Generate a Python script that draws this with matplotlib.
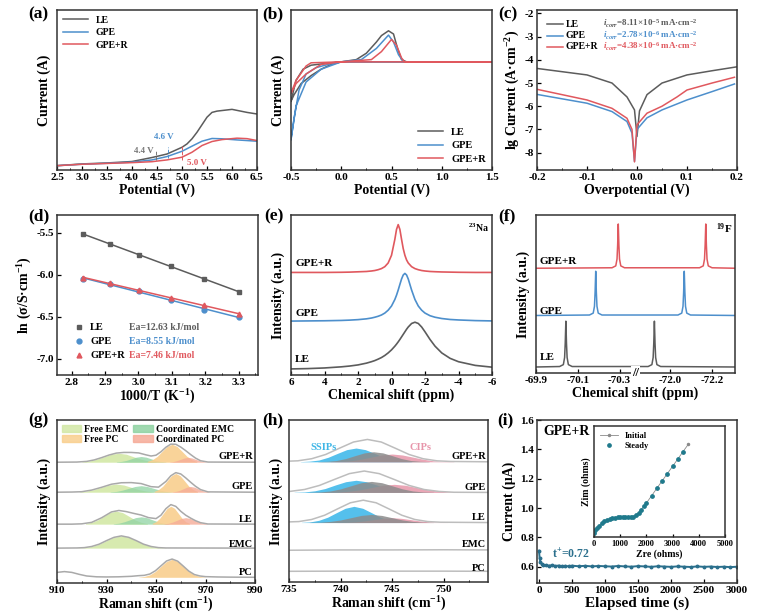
import numpy as np
import matplotlib
matplotlib.use('Agg')
import matplotlib.pyplot as plt
from matplotlib.patches import Patch
from matplotlib.ticker import AutoMinorLocator

plt.rcParams['font.family'] = ['Liberation Serif', 'DejaVu Serif']
plt.rcParams['font.weight'] = 'bold'
plt.rcParams['axes.labelweight'] = 'bold'
plt.rcParams['mathtext.fontset'] = 'custom'
plt.rcParams['mathtext.rm'] = 'Liberation Serif:bold'
plt.rcParams['mathtext.it'] = 'Liberation Serif:italic:bold'
plt.rcParams['mathtext.bf'] = 'Liberation Serif:bold'
plt.rcParams['axes.unicode_minus'] = False

C_LE = '#5c5c5c'
C_GPE = '#4d8fcc'
C_R = '#e0585e'
names = ['LE', 'GPE', 'GPE+R']
cols = [C_LE, C_GPE, C_R]

# ---------------- (a) LSV ----------------
a_x_le = [2.5, 3.0, 3.5, 4.0, 4.4, 4.7, 5.0, 5.1, 5.2, 5.3, 5.5, 5.6, 5.7, 6.0, 6.3, 6.5]
a_y_le = [0.027, 0.038, 0.044, 0.053, 0.078, 0.10, 0.142, 0.163, 0.195, 0.236, 0.33, 0.36, 0.368, 0.379, 0.36, 0.35]
a_x_gpe = [2.5, 3.0, 3.5, 4.0, 4.4, 4.7, 5.0, 5.2, 5.4, 5.6, 5.8, 6.1, 6.5]
a_y_gpe = [0.027, 0.036, 0.042, 0.049, 0.063, 0.084, 0.117, 0.149, 0.18, 0.197, 0.195, 0.188, 0.18]
a_x_r = [2.5, 3.0, 3.5, 4.0, 4.4, 4.7, 5.0, 5.2, 5.4, 5.6, 5.8, 6.1, 6.3, 6.5]
a_y_r = [0.027, 0.036, 0.041, 0.046, 0.052, 0.063, 0.08, 0.111, 0.153, 0.178, 0.19, 0.199, 0.196, 0.184]

# ---------------- (b) CV loops ----------------
b_x_le = [-0.5, -0.45, -0.38, -0.3, -0.1, 0.0, 0.15, 0.25, 0.35, 0.40, 0.47, 0.52, 0.56, 0.6, 0.65, 1.5,
          0.6, 0.0, -0.1, -0.2, -0.3, -0.4, -0.47, -0.5]
b_y_le = [0.43, 0.56, 0.63, 0.655, 0.67, 0.676, 0.69, 0.73, 0.80, 0.84, 0.87, 0.85, 0.76, 0.69, 0.676, 0.676,
          0.676, 0.676, 0.66, 0.63, 0.59, 0.54, 0.47, 0.43]
b_x_gpe = [-0.5, -0.47, -0.42, -0.35, -0.25, -0.1, 0.0, 0.2, 0.35, 0.47, 0.52, 0.57, 0.62, 1.5,
           0.62, 0.0, -0.2, -0.35, -0.45, -0.5]
b_y_gpe = [0.19, 0.32, 0.50, 0.60, 0.64, 0.665, 0.676, 0.69, 0.76, 0.843, 0.80, 0.72, 0.676, 0.676,
           0.676, 0.676, 0.63, 0.55, 0.40, 0.19]
b_x_r = [-0.5, -0.45, -0.35, -0.3, 0.0, 0.3, 0.4, 0.5, 0.55, 0.6, 0.63, 1.5,
         0.63, 0.0, -0.2, -0.35, -0.45, -0.5]
b_y_r = [0.48, 0.56, 0.65, 0.67, 0.676, 0.69, 0.74, 0.816, 0.78, 0.70, 0.676, 0.676,
         0.676, 0.676, 0.66, 0.60, 0.54, 0.48]

# ---------------- (c) Tafel ----------------
c_x_le = [-0.2, -0.1, -0.05, -0.02, -0.005, 0.0, 0.005, 0.02, 0.05, 0.1, 0.15, 0.2]
c_y_le = [-4.37, -4.65, -5.0, -5.6, -6.16, -7.3, -6.2, -5.5, -5.0, -4.65, -4.47, -4.3]
c_x_gpe = [-0.2, -0.1, -0.05, -0.02, -0.01, -0.005, 0.0, 0.02, 0.05, 0.1, 0.15, 0.195]
c_y_gpe = [-5.49, -5.87, -6.23, -6.66, -7.16, -8.38, -7.0, -6.5, -6.16, -5.73, -5.37, -5.04]
c_x_r = [-0.2, -0.1, -0.05, -0.02, -0.01, -0.005, 0.0, 0.02, 0.05, 0.08, 0.1, 0.15, 0.195]
c_y_r = [-5.27, -5.73, -6.09, -6.52, -7.0, -8.4, -6.8, -6.3, -6.0, -5.6, -5.3, -5.0, -4.75]
c_icorr = ['$i_{corr}$=8.11×10$^{-5}$ mA·cm$^{-2}$',
           '$i_{corr}$=2.78×10$^{-6}$ mA·cm$^{-2}$',
           '$i_{corr}$=4.38×10$^{-6}$ mA·cm$^{-2}$']

# ---------------- (d) Arrhenius ----------------
d_x = [2.833, 2.915, 3.003, 3.096, 3.195, 3.300]
d_le = [-5.51, -5.64, -5.77, -5.89, -6.05, -6.20]
d_gpe = [-6.05, -6.11, -6.19, -6.30, -6.42, -6.50]
d_r = [-6.04, -6.10, -6.18, -6.27, -6.36, -6.47]
d_ea = ['Ea=12.63 kJ/mol', 'Ea=8.55 kJ/mol', 'Ea=7.46 kJ/mol']

# ---------------- (e) 23Na NMR ----------------
e_x = [6, 5, 4, 3, 2.5, 2, 1.5, 1.2, 1.0, 0.8, 0.6, 0.4, 0.2, 0.0, -0.2, -0.3, -0.4, -0.5, -0.6, -0.7,
       -0.8, -0.9, -1.0, -1.2, -1.4, -1.6, -1.8, -2.0, -2.3, -2.6, -3, -3.5, -4, -5, -6]
e_r = [0.641, 0.641, 0.641, 0.642, 0.643, 0.645, 0.647, 0.650, 0.653, 0.658, 0.665, 0.677, 0.70, 0.748,
       0.848, 0.91, 0.94, 0.91, 0.848, 0.79, 0.748, 0.719, 0.70, 0.677, 0.665, 0.658, 0.653, 0.650,
       0.647, 0.6455, 0.644, 0.643, 0.642, 0.641, 0.641]
e_gpe = [0.337, 0.338, 0.339, 0.341, 0.343, 0.346, 0.351, 0.356, 0.361, 0.367, 0.375, 0.387, 0.405,
         0.431, 0.472, 0.499, 0.531, 0.566, 0.600, 0.625, 0.635, 0.625, 0.600, 0.531, 0.472, 0.431,
         0.405, 0.387, 0.3705, 0.361, 0.353, 0.347, 0.344, 0.340, 0.338]
e_le = [0.038, 0.040, 0.044, 0.051, 0.056, 0.063, 0.074, 0.083, 0.090, 0.099, 0.109, 0.122, 0.138,
        0.157, 0.18, 0.193, 0.207, 0.222, 0.238, 0.254, 0.270, 0.286, 0.300, 0.322, 0.330, 0.322,
        0.300, 0.270, 0.222, 0.180, 0.138, 0.104, 0.083, 0.060, 0.049]

# ---------------- (f) 19F NMR (broken axis) ----------------
f_x_le = [-69.90, -70.013, -70.031, -70.037, -70.040, -70.043, -70.046, -70.049, -70.055, -70.073,
          -71.894, -71.912, -71.918, -71.921, -71.924, -71.927, -71.930, -71.936, -71.954, -72.31]
f_y_le = [0.038, 0.041, 0.053, 0.098, 0.188, 0.328, 0.188, 0.098, 0.053, 0.041,
          0.041, 0.053, 0.098, 0.188, 0.328, 0.188, 0.098, 0.053, 0.041, 0.038]
f_x_gpe = [-69.90, -70.156, -70.174, -70.180, -70.183, -70.186, -70.189, -70.192, -70.198, -70.216,
           -72.037, -72.055, -72.061, -72.064, -72.067, -72.070, -72.073, -72.079, -72.097, -72.31]
f_y_gpe = [0.364, 0.367, 0.379, 0.422, 0.51, 0.644, 0.51, 0.422, 0.379, 0.367,
           0.367, 0.379, 0.422, 0.51, 0.644, 0.51, 0.422, 0.379, 0.367, 0.364]
f_x_r = [-69.90, -70.264, -70.282, -70.288, -70.291, -70.294, -70.297, -70.300, -70.306, -70.324,
         -72.140, -72.158, -72.164, -72.167, -72.170, -72.173, -72.176, -72.182, -72.200, -72.31]
f_y_r = [0.663, 0.666, 0.678, 0.721, 0.809, 0.943, 0.809, 0.721, 0.678, 0.666,
         0.666, 0.678, 0.721, 0.809, 0.943, 0.809, 0.721, 0.678, 0.666, 0.663]
f_ticks = [-69.9, -70.1, -70.3, -72.0, -72.2]
f_break_left = -70.376
f_break_right = -71.833

# ---------------- (g) Raman 910-990 ----------------
g_rows = ['GPE+R', 'GPE', 'LE', 'EMC', 'PC']
g_base = [0.741, 0.557, 0.361, 0.214, 0.035]
g_comp_names = ['Free EMC', 'Coordinated EMC', 'Free PC', 'Coordinated PC']
g_comp_cols = ['#d3e8a6', '#8fd3a3', '#f9cf8e', '#f6ab98']
g_fe_x = [[920, 923, 926, 929, 932, 935, 938, 941, 944, 947, 950],
          [919, 922, 925, 928, 931, 934, 937, 940, 943, 946, 949],
          [921.5, 924, 926.5, 929, 931.5, 934, 936.5, 939, 941.5, 944, 946.5],
          [918, 921, 924, 927, 930, 933, 936, 939, 942, 945, 948, 951, 954]]
g_fe_y = [[0.002, 0.007, 0.018, 0.033, 0.049, 0.055, 0.049, 0.033, 0.018, 0.007, 0.002],
          [0.002, 0.007, 0.016, 0.030, 0.044, 0.05, 0.044, 0.030, 0.016, 0.007, 0.002],
          [0.0035, 0.011, 0.026, 0.049, 0.071, 0.08, 0.071, 0.049, 0.026, 0.011, 0.0035],
          [0.001, 0.003, 0.010, 0.024, 0.046, 0.066, 0.075, 0.066, 0.046, 0.024, 0.010, 0.003, 0.001]]
g_ce_x = [[934, 936, 938, 940, 942, 944, 946, 948, 950, 952, 954],
          [931.5, 934, 936.5, 939, 941.5, 944, 946.5, 949, 951.5, 954, 956.5],
          [932.75, 935, 937.25, 939.5, 941.75, 944, 946.25, 948.5, 950.75, 953, 955.25]]
g_ce_y = [[0.002, 0.005, 0.011, 0.021, 0.031, 0.035, 0.031, 0.021, 0.011, 0.005, 0.002],
          [0.002, 0.005, 0.013, 0.024, 0.035, 0.04, 0.035, 0.024, 0.013, 0.005, 0.002],
          [0.002, 0.006, 0.015, 0.027, 0.040, 0.045, 0.040, 0.027, 0.015, 0.006, 0.002]]
g_fp_x = [[946.5, 948.5, 950.5, 952.5, 954.5, 956.5, 958.5, 960.5, 962.5, 964.5, 966.5],
          [949.25, 951, 952.75, 954.5, 956.25, 958, 959.75, 961.5, 963.25, 965, 966.75],
          [948.5, 950, 951.5, 953, 954.5, 956, 957.5, 959, 960.5, 962, 963.5],
          [943, 945.25, 947.5, 949.75, 952, 954.25, 956.5, 958.75, 961, 963.25, 965.5, 967.75, 970]]
g_fp_y = [[0.005, 0.015, 0.036, 0.067, 0.097, 0.11, 0.097, 0.067, 0.036, 0.015, 0.005],
          [0.005, 0.016, 0.037, 0.070, 0.101, 0.115, 0.101, 0.070, 0.037, 0.016, 0.005],
          [0.005, 0.015, 0.036, 0.067, 0.097, 0.11, 0.097, 0.067, 0.036, 0.015, 0.005],
          [0.001, 0.005, 0.015, 0.036, 0.067, 0.097, 0.11, 0.097, 0.067, 0.036, 0.015, 0.005, 0.001]]
g_cp_x = [[955.5, 957, 958.5, 960, 961.5, 963, 964.5, 966, 967.5, 969, 970.5],
          [956.5, 958, 959.5, 961, 962.5, 964, 965.5, 967, 968.5, 970, 971.5],
          [953.25, 955, 956.75, 958.5, 960.25, 962, 963.75, 965.5, 967.25, 969, 970.75]]
g_cp_y = [[0.001, 0.004, 0.010, 0.018, 0.026, 0.03, 0.026, 0.018, 0.010, 0.004, 0.001],
          [0.002, 0.005, 0.011, 0.021, 0.031, 0.035, 0.031, 0.021, 0.011, 0.005, 0.002],
          [0.002, 0.005, 0.013, 0.024, 0.035, 0.04, 0.035, 0.024, 0.013, 0.005, 0.002]]
g_env_x = [[910, 918, 922, 925, 928, 931, 934, 937, 940, 943, 946, 948, 950, 952, 954, 956, 958, 960, 962,
            964, 966, 968, 971, 990],
           [910, 916, 920, 924, 928, 932, 936, 940, 944, 948, 951, 954, 956, 958, 960, 962, 964, 966, 968,
            971, 990],
           [910, 916, 920, 924, 928, 932, 935, 938, 941, 944, 947, 950, 952, 954, 956, 958, 960, 962, 964,
            966, 968, 971, 990],
           [910, 918, 921, 924, 927, 930, 933, 936, 939, 942, 945, 948, 951, 954, 990],
           [910, 913, 916, 919, 922, 926, 930, 935, 940, 943, 945.25, 947.5, 949.75, 952, 954.25, 956.5,
            958.75, 961, 963.25, 965.5, 967.75, 970, 975, 980, 990]]
g_env_y = [[0, 0.001, 0.005, 0.014, 0.028, 0.044, 0.056, 0.060, 0.060, 0.057, 0.045, 0.038, 0.043, 0.064,
            0.092, 0.111, 0.110, 0.093, 0.071, 0.047, 0.025, 0.009, 0.001, 0],
           [0, 0.001, 0.003, 0.013, 0.030, 0.049, 0.058, 0.059, 0.053, 0.034, 0.031, 0.066, 0.101, 0.120,
            0.112, 0.088, 0.061, 0.036, 0.016, 0.002, 0],
           [0, 0.0, 0.002, 0.011, 0.039, 0.075, 0.084, 0.077, 0.066, 0.056, 0.040, 0.034, 0.055, 0.095,
            0.120, 0.109, 0.079, 0.055, 0.037, 0.021, 0.009, 0.001, 0],
           [0, 0.001, 0.003, 0.010, 0.024, 0.046, 0.066, 0.075, 0.066, 0.046, 0.024, 0.010, 0.003, 0.001, 0],
           [0.03, 0.035, 0.03, 0.018, 0.008, 0.003, 0.002, 0.003, 0.006, 0.01, 0.012, 0.02, 0.04, 0.07, 0.1,
            0.112, 0.099, 0.069, 0.038, 0.017, 0.008, 0.004, 0.002, 0.001, 0.0]]

# ---------------- (h) Raman 735-754 ----------------
h_rows = ['GPE+R', 'GPE', 'LE', 'EMC', 'PC']
h_base = [0.742, 0.553, 0.367, 0.196, 0.066]
h_blue_x = [[736.1, 737.0, 737.9, 738.8, 739.7, 740.6, 741.5, 742.4, 743.3, 744.2, 745.1, 746.0, 746.9],
            [735.5, 736.5, 737.5, 738.5, 739.5, 740.5, 741.5, 742.5, 743.5, 744.5, 745.5, 746.5, 747.5],
            [736.2, 737.05, 737.9, 738.75, 739.6, 740.45, 741.3, 742.15, 743.0, 743.85, 744.7, 745.55, 746.4]]
h_blue_y = [[0.001, 0.004, 0.011, 0.028, 0.052, 0.075, 0.085, 0.075, 0.052, 0.028, 0.011, 0.004, 0.001],
            [0.001, 0.003, 0.010, 0.024, 0.046, 0.066, 0.075, 0.066, 0.046, 0.024, 0.010, 0.003, 0.001],
            [0.001, 0.004, 0.014, 0.033, 0.061, 0.088, 0.1, 0.088, 0.061, 0.033, 0.014, 0.004, 0.001]]
h_gray_x = [[737.8, 738.7, 739.6, 740.5, 741.4, 742.3, 743.2, 744.1, 745.0, 745.9, 746.8, 747.7, 748.6],
            [737, 738, 739, 740, 741, 742, 743, 744, 745, 746, 747, 748, 749],
            [737, 738, 739, 740, 741, 742, 743, 744, 745, 746, 747, 748, 749]]
h_gray_y = [[0.001, 0.003, 0.008, 0.020, 0.038, 0.055, 0.062, 0.055, 0.038, 0.020, 0.008, 0.003, 0.001],
            [0.001, 0.003, 0.009, 0.022, 0.041, 0.060, 0.068, 0.060, 0.041, 0.022, 0.009, 0.003, 0.001],
            [0.001, 0.002, 0.007, 0.016, 0.030, 0.044, 0.05, 0.044, 0.030, 0.016, 0.007, 0.002, 0.001]]
h_pink_x = [[739, 740, 741, 742, 743, 744, 745, 746, 747, 748, 749, 750, 751],
            [738.6, 739.7, 740.8, 741.9, 743.0, 744.1, 745.2, 746.3, 747.4, 748.5, 749.6, 750.7, 751.8],
            [739.6, 740.5, 741.4, 742.3, 743.2, 744.1, 745.0, 745.9, 746.8, 747.7, 748.6, 749.5, 750.4]]
h_pink_y = [[0.001, 0.002, 0.006, 0.016, 0.029, 0.042, 0.048, 0.042, 0.029, 0.016, 0.006, 0.002, 0.001],
            [0.001, 0.002, 0.007, 0.016, 0.030, 0.044, 0.05, 0.044, 0.030, 0.016, 0.007, 0.002, 0.001],
            [0.0, 0.001, 0.004, 0.010, 0.018, 0.026, 0.03, 0.026, 0.018, 0.010, 0.004, 0.001, 0.0]]
h_env_x = [[735, 735.85, 737.2, 738.55, 739.9, 741.25, 742.6, 743.95, 745.3, 746.65, 748.0, 749.35, 750.7, 754.3],
           [735, 735.05, 736.5, 737.95, 739.4, 740.85, 742.3, 743.75, 745.2, 746.65, 748.1, 749.55, 751.0, 754.3],
           [735, 735.95, 737.2, 738.45, 739.7, 740.95, 742.2, 743.45, 744.7, 745.95, 747.2, 748.45, 749.7, 754.3],
           [735, 740, 745, 750, 754.3],
           [735, 740, 745, 750, 754.3]]
h_env_y = [[0.004, 0.006, 0.019, 0.045, 0.084, 0.122, 0.138, 0.122, 0.084, 0.045, 0.019, 0.006, 0.002, 0],
           [0.005, 0.006, 0.018, 0.043, 0.080, 0.116, 0.132, 0.116, 0.080, 0.043, 0.018, 0.006, 0.001, 0],
           [0.004, 0.006, 0.019, 0.045, 0.084, 0.122, 0.138, 0.122, 0.084, 0.045, 0.019, 0.006, 0.002, 0],
           [0, 0.002, 0.002, 0.003, 0.002],
           [0, 0.001, 0.001, 0.001, 0.0]]

# ---------------- (i) current vs time + inset ----------------
i_t = [0, 10, 20, 40, 60, 100, 150, 200, 250, 300, 350, 400, 450, 500, 600, 700, 800, 900, 1000, 1100,
       1200, 1300, 1400, 1500, 1600, 1700, 1800, 1900, 2000, 2100, 2200, 2300, 2400, 2500, 2600, 2700,
       2800, 2900, 3000]
i_cur = [0.71, 0.66, 0.635, 0.622, 0.615, 0.612, 0.608, 0.611, 0.606, 0.609, 0.604, 0.607, 0.603, 0.608,
         0.604, 0.607, 0.603, 0.606, 0.604, 0.602, 0.606, 0.603, 0.601, 0.605, 0.603, 0.600, 0.604, 0.602,
         0.600, 0.603, 0.601, 0.599, 0.603, 0.600, 0.602, 0.599, 0.601, 0.598, 0.601]
n_zre = [0, 50, 100, 200, 300, 400, 500, 600, 700, 800, 900, 1000, 1100, 1200, 1300, 1400, 1500, 1600,
         1700, 1800, 1900, 2000, 2200, 2400, 2600, 2800, 3000, 3200, 3400, 3600]
n_zim = [150, 260, 343, 432, 534, 610, 661, 700, 725, 748, 763, 772, 776, 778, 777, 780, 789, 852,
         941, 1069, 1196, 1323, 1610, 1900, 2185, 2470, 2755, 3040, 3330, 3613]


def rect(x0, y0, x1, y1):
    return [x0 / 780, 1 - y1 / 614, (x1 - x0) / 780, (y1 - y0) / 614]


def style(ax, minor_x=True):
    for s in ax.spines.values():
        s.set_linewidth(1.1)
        s.set_color('#333333')
    ax.tick_params(direction='in', length=3, width=0.9, labelsize=8, pad=2)
    ax.tick_params(which='minor', direction='in', length=1.8, width=0.7)
    if minor_x:
        ax.xaxis.set_minor_locator(AutoMinorLocator(2))


def key_rows(ax, x_line, x_name, x_note, ys, labels, notes, fs=7, markers=None):
    # hand-made legend rows: short line (or marker), name, coloured note
    for k, (y, lab, note, c) in enumerate(zip(ys, labels, notes, cols)):
        if markers is None:
            ax.plot(x_line, [y, y], transform=ax.transAxes, color=c, lw=1.1)
        else:
            ax.plot([sum(x_line) / 2], [y], transform=ax.transAxes, color=c, marker=markers[k], ms=3.5)
        ax.text(x_name, y, lab, transform=ax.transAxes, fontsize=fs, va='center')
        ax.text(x_note, y, note, transform=ax.transAxes, fontsize=fs - 0.5, va='center', color=c)


fig = plt.figure(figsize=(7.8, 6.14), dpi=100)
LF = 10
panel_pos = {'(a)': (28, 14), '(b)': (262, 14), '(c)': (498, 14),
             '(d)': (28, 216), '(e)': (264, 216), '(f)': (498, 216),
             '(g)': (28, 420), '(h)': (262, 420), '(i)': (497, 420)}
for k, (px, py) in panel_pos.items():
    fig.text(px / 780, 1 - py / 614, k, fontsize=12.5, fontweight='bold', va='center', ha='left')

# (a)
ax = fig.add_axes(rect(57, 10, 257, 170))
ax.plot(a_x_le, a_y_le, color=C_LE, lw=1.1, label='LE')
ax.plot(a_x_gpe, a_y_gpe, color=C_GPE, lw=1.1, label='GPE')
ax.plot(a_x_r, a_y_r, color=C_R, lw=1.1, label='GPE+R')
ax.set_xlim(2.5, 6.5)
ax.set_ylim(0, 1)
ax.set_yticks([])
ax.set_xticks(np.arange(2.5, 6.6, 0.5))
ax.vlines([4.47, 4.71, 5.0], [0.065, 0.075, 0.06], [0.12, 0.145, 0.155], colors=['#777777', C_GPE, C_R],
          linestyles='dashed', lw=0.7)
ax.text(4.43, 0.12, '4.4 V', color='#777777', fontsize=6.5, ha='right', va='center')
ax.text(4.63, 0.205, '4.6 V', color=C_GPE, fontsize=6.5, ha='center', va='center')
ax.text(5.3, 0.044, '5.0 V', color=C_R, fontsize=6.5, ha='center', va='center')
ax.legend(loc='upper left', frameon=False, fontsize=7, handlelength=2.6, labelspacing=0.35,
          borderaxespad=0.2)
ax.set_xlabel('Potential (V)', fontsize=LF, labelpad=1)
ax.set_ylabel('Current (A)', fontsize=LF, labelpad=4)
style(ax)

# (b)
ax = fig.add_axes(rect(291, 10, 492, 170))
ax.plot(b_x_le, b_y_le, color=C_LE, lw=1.1, label='LE')
ax.plot(b_x_gpe, b_y_gpe, color=C_GPE, lw=1.1, label='GPE')
ax.plot(b_x_r, b_y_r, color=C_R, lw=1.1, label='GPE+R')
ax.set_xlim(-0.5, 1.5)
ax.set_ylim(0, 1)
ax.set_yticks([])
ax.set_xticks([-0.5, 0.0, 0.5, 1.0, 1.5])
ax.legend(loc='lower right', frameon=False, fontsize=7.5, handlelength=2.4, labelspacing=0.4,
          borderaxespad=0.2)
ax.set_xlabel('Potential (V)', fontsize=LF, labelpad=1)
ax.set_ylabel('Current (A)', fontsize=LF, labelpad=4)
style(ax)

# (c)
ax = fig.add_axes(rect(537, 10, 737, 170))
ax.plot(c_x_le, c_y_le, color=C_LE, lw=1.1)
ax.plot(c_x_gpe, c_y_gpe, color=C_GPE, lw=1.1)
ax.plot(c_x_r, c_y_r, color=C_R, lw=1.1)
ax.set_xlim(-0.2, 0.2)
ax.set_ylim(-8.75, -1.85)
ax.set_xticks([-0.2, -0.1, 0.0, 0.1, 0.2])
ax.set_yticks([-8, -7, -6, -5, -4, -3, -2])
key_rows(ax, [0.05, 0.13], 0.145, 0.33, [0.91, 0.84, 0.77], names, c_icorr, fs=7)
ax.set_xlabel('Overpotential (V)', fontsize=LF, labelpad=1)
ax.set_ylabel('lg Current (A·cm$^{-2}$)', fontsize=LF, labelpad=2)
style(ax)

# (d)
ax = fig.add_axes(rect(57, 215, 258, 375))
fit_x = np.array([d_x[0], d_x[-1]])
for yv, c, m in zip([d_le, d_gpe, d_r], cols, ['s', 'o', '^']):
    p = np.polyfit(d_x, yv, 1)
    ax.plot(fit_x, np.polyval(p, fit_x), color=c, lw=1.1)
    ax.plot(d_x, yv, ls='none', marker=m, ms=3.5, color=c)
ax.set_xlim(2.756, 3.358)
ax.set_ylim(-7.19, -5.29)
ax.set_xticks([2.8, 2.9, 3.0, 3.1, 3.2, 3.3])
ax.set_yticks([-7.0, -6.5, -6.0, -5.5])
key_rows(ax, [0.09, 0.13], 0.165, 0.36, [0.30, 0.21, 0.125], names, d_ea, fs=7.5, markers=['s', 'o', '^'])
ax.set_xlabel('1000/T (K$^{-1}$)', fontsize=LF, labelpad=1)
ax.set_ylabel('ln (σ/S·cm$^{-1}$)', fontsize=LF, labelpad=2)
style(ax)

# (e)
ax = fig.add_axes(rect(291, 215, 492, 375))
ax.plot(e_x, e_le, color=C_LE, lw=1.2)
ax.plot(e_x, e_gpe, color=C_GPE, lw=1.2)
ax.plot(e_x, e_r, color=C_R, lw=1.2)
ax.set_xlim(6, -6)
ax.set_ylim(0, 1)
ax.set_yticks([])
ax.set_xticks([6, 4, 2, 0, -2, -4, -6])
for lab, y in zip(['GPE+R', 'GPE', 'LE'], [0.70, 0.385, 0.094]):
    ax.text(0.02, y, lab, transform=ax.transAxes, fontsize=8, va='center')
ax.text(0.985, 0.96, '$^{23}$Na', transform=ax.transAxes, fontsize=7, ha='right', va='top')
ax.set_xlabel('Chemical shift (ppm)', fontsize=LF, labelpad=1)
ax.set_ylabel('Intensity (a.u.)', fontsize=LF, labelpad=4)
style(ax)


# (f) broken x axis: positions on a continuous scale with the gap removed
def fpos(ppm):
    ppm = np.asarray(ppm, dtype=float)
    gap = f_break_left - f_break_right
    return np.where(ppm > -71.1, -ppm, -ppm - gap)


ax = fig.add_axes(rect(536, 215, 735, 373))
ax.plot(fpos(f_x_le), f_y_le, color=C_LE, lw=1.1)
ax.plot(fpos(f_x_gpe), f_y_gpe, color=C_GPE, lw=1.1)
ax.plot(fpos(f_x_r), f_y_r, color=C_R, lw=1.1)
ax.set_xlim(fpos(-69.9), fpos(-72.31))
ax.set_ylim(0, 1)
ax.set_yticks([])
ax.set_xticks(fpos(f_ticks))
ax.set_xticklabels([f'{v:.1f}' for v in f_ticks])
ax.text(fpos(f_break_left), 0.0, '//', fontsize=9, ha='center', va='center',
        transform=ax.get_xaxis_transform(), bbox=dict(fc='white', ec='none', pad=0.5))
for lab, y in zip(['GPE+R', 'GPE', 'LE'], [0.705, 0.39, 0.095]):
    ax.text(0.02, y, lab, transform=ax.transAxes, fontsize=8, va='center')
ax.text(0.985, 0.96, '$^{19}$F', transform=ax.transAxes, fontsize=8, ha='right', va='top')
ax.set_xlabel('Chemical shift (ppm)', fontsize=LF, labelpad=1)
ax.set_ylabel('Intensity (a.u.)', fontsize=LF, labelpad=4)
style(ax, minor_x=False)

# (g)
ax = fig.add_axes(rect(57, 420, 255, 583))
for i, b in enumerate(g_base):
    if i < 4:
        ax.fill_between(g_fe_x[i], b, np.array(g_fe_y[i]) + b, color=g_comp_cols[0], alpha=0.9, lw=0)
    if i < 3:
        ax.fill_between(g_ce_x[i], b, np.array(g_ce_y[i]) + b, color=g_comp_cols[1], alpha=0.75, lw=0)
    if i < 3 or i == 4:
        j = i if i < 3 else 3
        ax.fill_between(g_fp_x[j], b, np.array(g_fp_y[j]) + b, color=g_comp_cols[2], alpha=0.9, lw=0)
    if i < 3:
        ax.fill_between(g_cp_x[i], b, np.array(g_cp_y[i]) + b, color=g_comp_cols[3], alpha=0.8, lw=0)
    ax.plot(g_env_x[i], np.array(g_env_y[i]) + b, color='#a9a9a9', lw=1.1)
for lab, y in zip(g_rows, [0.775, 0.59, 0.39, 0.235, 0.065]):
    ax.text(0.99, y, lab, transform=ax.transAxes, fontsize=7.5, ha='right', va='center')
# column-major fill: row 1 = Free EMC | Coordinated EMC, row 2 = Free PC | Coordinated PC
order = [0, 2, 1, 3]
ax.legend([Patch(color=g_comp_cols[k], alpha=0.85) for k in order], [g_comp_names[k] for k in order],
          ncol=2, loc='upper left', frameon=False, fontsize=7, handlelength=2.0, handleheight=0.8,
          columnspacing=0.5, labelspacing=0.1, handletextpad=0.3, borderaxespad=0.1,
          bbox_to_anchor=(0.0, 1.0))
ax.set_xlim(910, 990)
ax.set_ylim(0, 1)
ax.set_yticks([])
ax.set_xticks([910, 930, 950, 970, 990])
ax.set_xlabel('Raman shift (cm$^{-1}$)', fontsize=LF, labelpad=1)
ax.set_ylabel('Intensity (a.u.)', fontsize=LF, labelpad=4)
style(ax)

# (h)
ax = fig.add_axes(rect(289, 420, 488, 582))
for i, b in enumerate(h_base):
    if i < 3:
        ax.fill_between(h_blue_x[i], b, np.array(h_blue_y[i]) + b, color='#55c0ec', lw=0)
        ax.fill_between(h_pink_x[i], b, np.array(h_pink_y[i]) + b, color='#eaa6b6', lw=0)
        ax.fill_between(h_gray_x[i], b, np.array(h_gray_y[i]) + b, color='#8c8c8c', alpha=0.85, lw=0)
    ax.plot(h_env_x[i], np.array(h_env_y[i]) + b, color='#bdbdbd', lw=1.1)
for lab, y in zip(h_rows, [0.773, 0.585, 0.40, 0.23, 0.082]):
    ax.text(0.99, y, lab, transform=ax.transAxes, fontsize=7.5, ha='right', va='center')
ax.text(738.4, 0.83, 'SSIPs', color='#3fb6e6', fontsize=7.5, ha='center', va='center')
ax.text(747.8, 0.83, 'CIPs', color='#e795aa', fontsize=7.5, ha='center', va='center')
ax.set_xlim(735, 754.3)
ax.set_ylim(0, 1)
ax.set_yticks([])
ax.set_xticks([735, 740, 745, 750])
ax.set_xlabel('Raman shift (cm$^{-1}$)', fontsize=LF, labelpad=1)
ax.set_ylabel('Intensity (a.u.)', fontsize=LF, labelpad=4)
style(ax)

# (i)
ax = fig.add_axes(rect(537, 420, 737, 583))
ax.plot(i_t, i_cur, color='#2a6f8c', lw=1.4, marker='o', ms=1.8)
ax.set_xlim(-30, 3000)
ax.set_ylim(0.49, 1.6)
ax.set_xticks([0, 500, 1000, 1500, 2000, 2500, 3000])
ax.set_yticks([0.6, 0.8, 1.0, 1.2, 1.4, 1.6])
ax.text(0.03, 0.93, 'GPE+R', transform=ax.transAxes, fontsize=10, va='center')
ax.text(200, 0.685, 't$^{+}$=0.72', color='#2a6f8c', fontsize=8.5, va='center')
ax.set_xlabel('Elapsed time (s)', fontsize=11, labelpad=1)
ax.set_ylabel('Current (μA)', fontsize=LF, labelpad=3)
style(ax, minor_x=False)

axin = fig.add_axes(rect(594, 426, 725, 537))
axin.plot(n_zre, n_zim, color='#8a8a8a', lw=0.6, marker='o', ms=1.5, label='Initial')
axin.plot(n_zre[:-1], n_zim[:-1], color='#1f7a8c', lw=0.5, ls='none', marker='o', ms=2.4, label='Steady')
axin.set_xlim(0, 5000)
axin.set_ylim(0, 4325)
axin.set_yticks([])
axin.set_xticks([0, 1000, 2000, 3000, 4000, 5000])
axin.legend(loc='upper left', frameon=False, fontsize=6, handlelength=2.2, labelspacing=0.2,
            borderaxespad=0.3)
axin.set_xlabel('Zre (ohms)', fontsize=7, labelpad=1)
axin.set_ylabel('Zim (ohms)', fontsize=7, labelpad=2)
style(axin, minor_x=False)
axin.tick_params(labelsize=6, length=2)

fig.savefig('out.png', dpi=100)
